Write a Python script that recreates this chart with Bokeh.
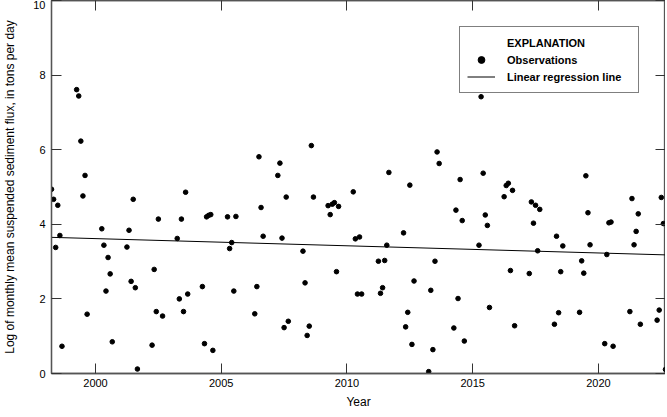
from bokeh.plotting import figure
from bokeh.models import (ColumnDataSource, Range1d, LinearAxis, FixedTicker,
                          Legend, LegendItem)
from bokeh.embed import file_html
from bokeh.resources import INLINE

FONT = "Liberation Sans"

# Monthly observations, April to September of each year (a few months missing)
obs_year = [1998] * 6 + [1999] * 6 + [2000] * 6 + [2001] * 6 + [2002] * 5 + \
           [2003] * 6 + [2004] * 6 + [2005] * 5 + [2006] * 5 + [2007] * 6 + \
           [2008] * 6 + [2009] * 6 + [2010] * 5 + [2011] * 6 + [2012] * 6 + \
           [2013] * 6 + [2014] * 6 + [2015] * 6 + [2016] * 6 + [2017] * 6 + \
           [2018] * 5 + [2019] * 6 + [2020] * 5 + [2021] * 6 + [2022] * 5
obs_month = [4, 5, 6, 7, 8, 9,   # 1998
             4, 5, 6, 7, 8, 9,   # 1999
             4, 5, 6, 7, 8, 9,   # 2000
             4, 5, 6, 7, 8, 9,   # 2001
             4, 5, 6, 7, 9,      # 2002
             4, 5, 6, 7, 8, 9,   # 2003
             4, 5, 6, 7, 8, 9,   # 2004
             4, 5, 6, 7, 8,      # 2005
             5, 6, 7, 8, 9,      # 2006
             4, 5, 6, 7, 8, 9,   # 2007
             4, 5, 6, 7, 8, 9,   # 2008
             4, 5, 6, 7, 8, 9,   # 2009
             4, 5, 6, 7, 8,      # 2010
             4, 5, 6, 7, 8, 9,   # 2011
             4, 5, 6, 7, 8, 9,   # 2012
             4, 5, 6, 7, 8, 9,   # 2013
             4, 5, 6, 7, 8, 9,   # 2014
             4, 5, 6, 7, 8, 9,   # 2015
             4, 5, 6, 7, 8, 9,   # 2016
             4, 5, 6, 7, 8, 9,   # 2017
             4, 5, 6, 7, 8,      # 2018
             4, 5, 6, 7, 8, 9,   # 2019
             4, 5, 6, 7, 8,      # 2020
             4, 5, 6, 7, 8, 9,   # 2021
             5, 6, 7, 8, 9]      # 2022
obs_value = [4.94, 4.67, 3.38, 4.51, 3.70, 0.73,
             7.61, 7.44, 6.23, 4.76, 5.31, 1.59,
             3.88, 3.44, 2.21, 3.11, 2.67, 0.85,
             3.39, 3.84, 2.47, 4.67, 2.30, 0.12,
             0.76, 2.79, 1.66, 4.14, 1.54,
             3.62, 2.00, 4.14, 1.66, 4.86, 2.13,
             2.33, 0.80, 4.20, 4.24, 4.26, 0.62,
             4.20, 3.35, 3.51, 2.21, 4.21,
             1.60, 2.33, 5.81, 4.45, 3.68,
             5.31, 5.64, 3.63, 1.23, 4.73, 1.40,
             3.28, 2.43, 1.02, 1.27, 6.11, 4.73,
             4.50, 4.26, 4.54, 4.58, 2.73, 4.48,
             4.87, 3.61, 2.13, 3.66, 2.13,
             3.01, 2.15, 2.30, 3.03, 3.44, 5.39,
             3.77, 1.25, 1.64, 5.05, 0.78, 2.48,
             0.05, 2.23, 0.64, 3.01, 5.94, 5.63,
             1.22, 4.38, 2.01, 5.20, 4.10, 0.87,
             3.44, 7.42, 5.37, 4.25, 3.97, 1.77,
             4.74, 5.04, 5.10, 2.76, 4.91, 1.28,
             2.68, 4.60, 4.03, 4.51, 3.29, 4.40,
             1.32, 3.68, 1.63, 2.73, 3.42,
             1.64, 3.02, 2.69, 5.30, 4.31, 3.45,
             0.80, 3.19, 4.04, 4.06, 0.73,
             1.66, 4.69, 3.45, 3.81, 4.28, 1.32,
             1.43, 1.70, 4.72, 4.02, 0.11]

# end points of the linear regression line
fit_year = [1998.25, 2022.667]
fit_value = [3.65, 3.18]

x_ticks = [2000, 2005, 2010, 2015, 2020]
y_ticks = [0, 2, 4, 6, 8, 10]

# month -> decimal year
obs_x = [y + (m - 1) / 12 for y, m in zip(obs_year, obs_month)]
source = ColumnDataSource(data=dict(x=obs_x, y=obs_value))

p = figure(width=665, height=411,
           x_range=Range1d(1998.25, 2022.667), y_range=Range1d(0, 10),
           x_axis_label="Year",
           y_axis_label="Log of monthly mean suspended sediment flux, in tons per day",
           output_backend="svg", toolbar_location=None,
           min_border_left=44, min_border_right=0, min_border_top=0,
           min_border_bottom=0)
p.grid.visible = False
p.outline_line_color = "#555555"
p.outline_line_width = 1.3

p.xaxis.ticker = FixedTicker(ticks=x_ticks)
p.yaxis.ticker = FixedTicker(ticks=y_ticks)

# mirrored tick marks on top and right, no labels
top = LinearAxis(ticker=FixedTicker(ticks=x_ticks))
right = LinearAxis(ticker=FixedTicker(ticks=y_ticks))
p.add_layout(top, "above")
p.add_layout(right, "right")

for ax in p.axis:
    ax.major_tick_in = 10
    ax.major_tick_out = 0
    ax.minor_tick_in = 0
    ax.minor_tick_out = 0
    ax.minor_tick_line_color = None
    ax.major_tick_line_color = "#333333"
    ax.axis_line_color = "#555555"
    ax.axis_line_width = 1.3
    ax.major_label_text_font = FONT
    ax.major_label_text_font_size = "11px"
    ax.major_label_text_color = "black"
    ax.axis_label_text_font = FONT
    ax.axis_label_text_font_size = "12px"
    ax.axis_label_text_font_style = "normal"
    ax.axis_label_text_color = "black"

for ax in (top, right):
    ax.major_label_text_color = None
    ax.major_label_text_font_size = "0px"
    ax.major_label_standoff = 0
    ax.axis_label_standoff = 0

p.xaxis[0].major_label_standoff = 8
p.xaxis[0].axis_label_standoff = 6
p.xaxis[0].axis_label_text_font_size = "12.5px"
p.yaxis[0].major_label_standoff = 6
p.yaxis[0].axis_label_standoff = 13

fit = p.line(fit_year, fit_value, line_color="black", line_width=1)
pts = p.scatter("x", "y", source=source, size=4.6, color="black")
# empty renderer so that the heading can sit as the first legend row
heading = p.scatter(x=[], y=[], size=0, alpha=0)

legend = Legend(items=[LegendItem(label="EXPLANATION", renderers=[heading]),
                       LegendItem(label="Observations", renderers=[pts]),
                       LegendItem(label="Linear regression line", renderers=[fit])],
                location="top_right", margin=26)
legend.label_text_font = FONT
legend.label_text_font_size = "11px"
legend.label_text_font_style = "bold"
legend.label_text_color = "black"
legend.border_line_color = "black"
legend.border_line_width = 1
legend.padding = 7
legend.spacing = 0
legend.label_height = 17
legend.glyph_height = 17
legend.glyph_width = 28
legend.label_standoff = 12
legend.label_width = 124
p.add_layout(legend)

open("out.html", "w").write(file_html(p, INLINE))
